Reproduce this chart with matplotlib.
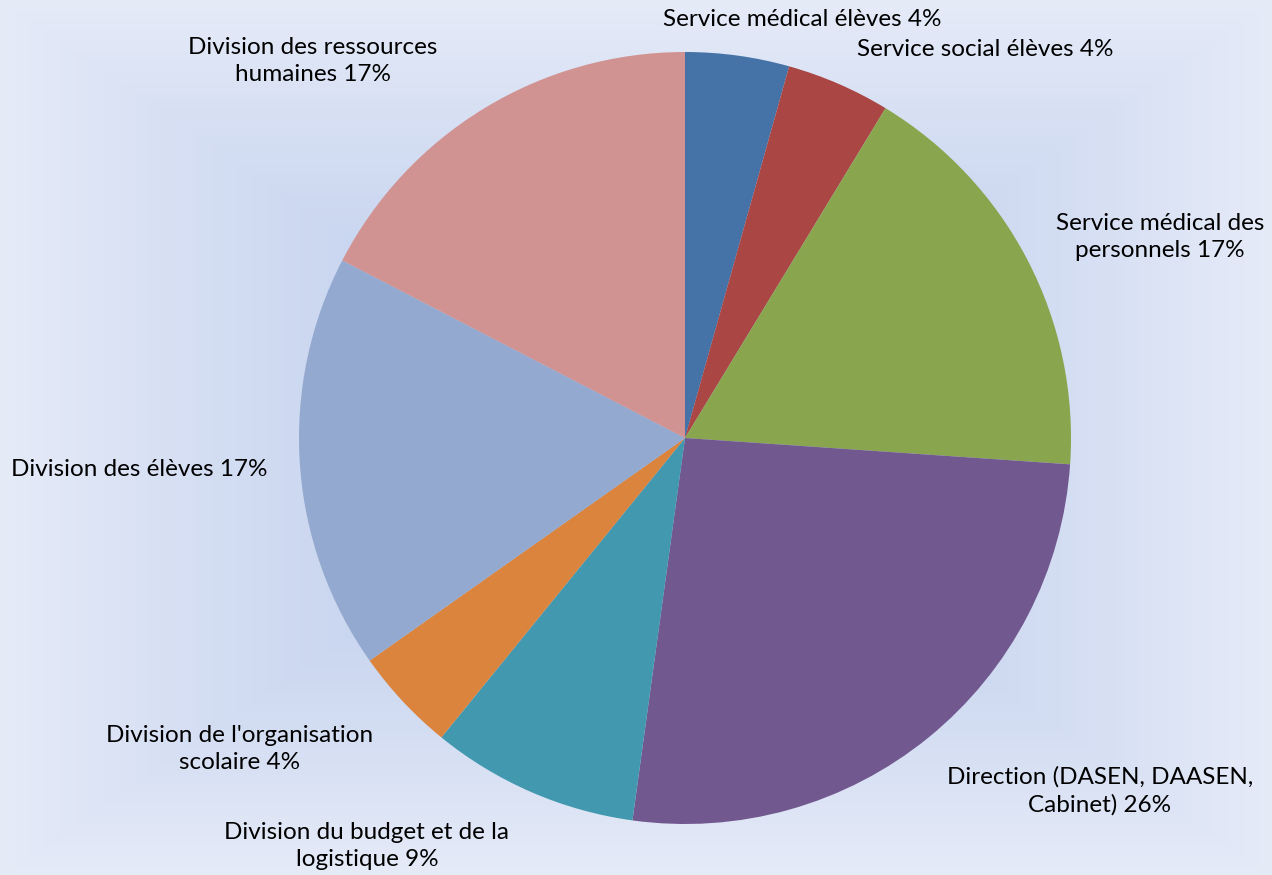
import matplotlib
matplotlib.use("Agg")
import matplotlib.pyplot as plt
import numpy as np

# données : effectifs par service (parts affichées en %)
labels = ["Service médical élèves", "Service social élèves",
          "Service médical des\npersonnels", "Direction (DASEN, DAASEN,\nCabinet)",
          "Division du budget et de la\nlogistique", "Division de l'organisation\nscolaire",
          "Division des élèves", "Division des ressources\nhumaines"]
values = [1, 1, 4, 6, 2, 1, 4, 4]
colors = ["#4572A7", "#AA4643", "#89A54E", "#71588F",
          "#4198AF", "#DB843D", "#93A9CF", "#D19392"]

# positions des étiquettes (pixels, origine en haut à gauche)
label_xy = [(802, 20), (985, 50), (1160, 237), (1100, 791),
            (367, 846), (240, 749), (139, 469), (313, 61)]

W, H = 1272, 875
fig = plt.figure(figsize=(W / 100, H / 100), dpi=100)

# fond en dégradé "depuis le centre" (rectangulaire)
bg = fig.add_axes([0, 0, 1, 1])
yy, xx = np.mgrid[0:H, 0:W]
r = np.maximum(np.abs(xx - W / 2.0) / (W / 2.0), np.abs(yy - H / 2.0) / (H / 2.0))
r = np.clip(r, 0, 1) ** 1.6
c0 = np.array([0xc0, 0xcf, 0xed]) / 255.0
c1 = np.array([0xe6, 0xeb, 0xf8]) / 255.0
img = c0[None, None, :] * (1 - r[..., None]) + c1[None, None, :] * r[..., None]
bg.imshow(img, extent=[0, W, H, 0], aspect="auto")
bg.axis("off")

ax = fig.add_axes([0, 0, 1, 1])
ax.patch.set_alpha(0)
ax.pie(values, colors=colors, startangle=90, counterclock=False,
       center=(685, H - 438), radius=386, frame=True,
       wedgeprops=dict(linewidth=0))
ax.set_xlim(0, W)
ax.set_ylim(0, H)
ax.set_aspect("equal")
ax.axis("off")

total = sum(values)
for lab, v, (px, py) in zip(labels, values, label_xy):
    pct = round(100.0 * v / total)
    ax.text(px, H - py, "%s %d%%" % (lab, pct), ha="center", va="center",
            fontsize=17.5, family="Lato", color="black", linespacing=1.4)

fig.savefig("out.png", dpi=100)
